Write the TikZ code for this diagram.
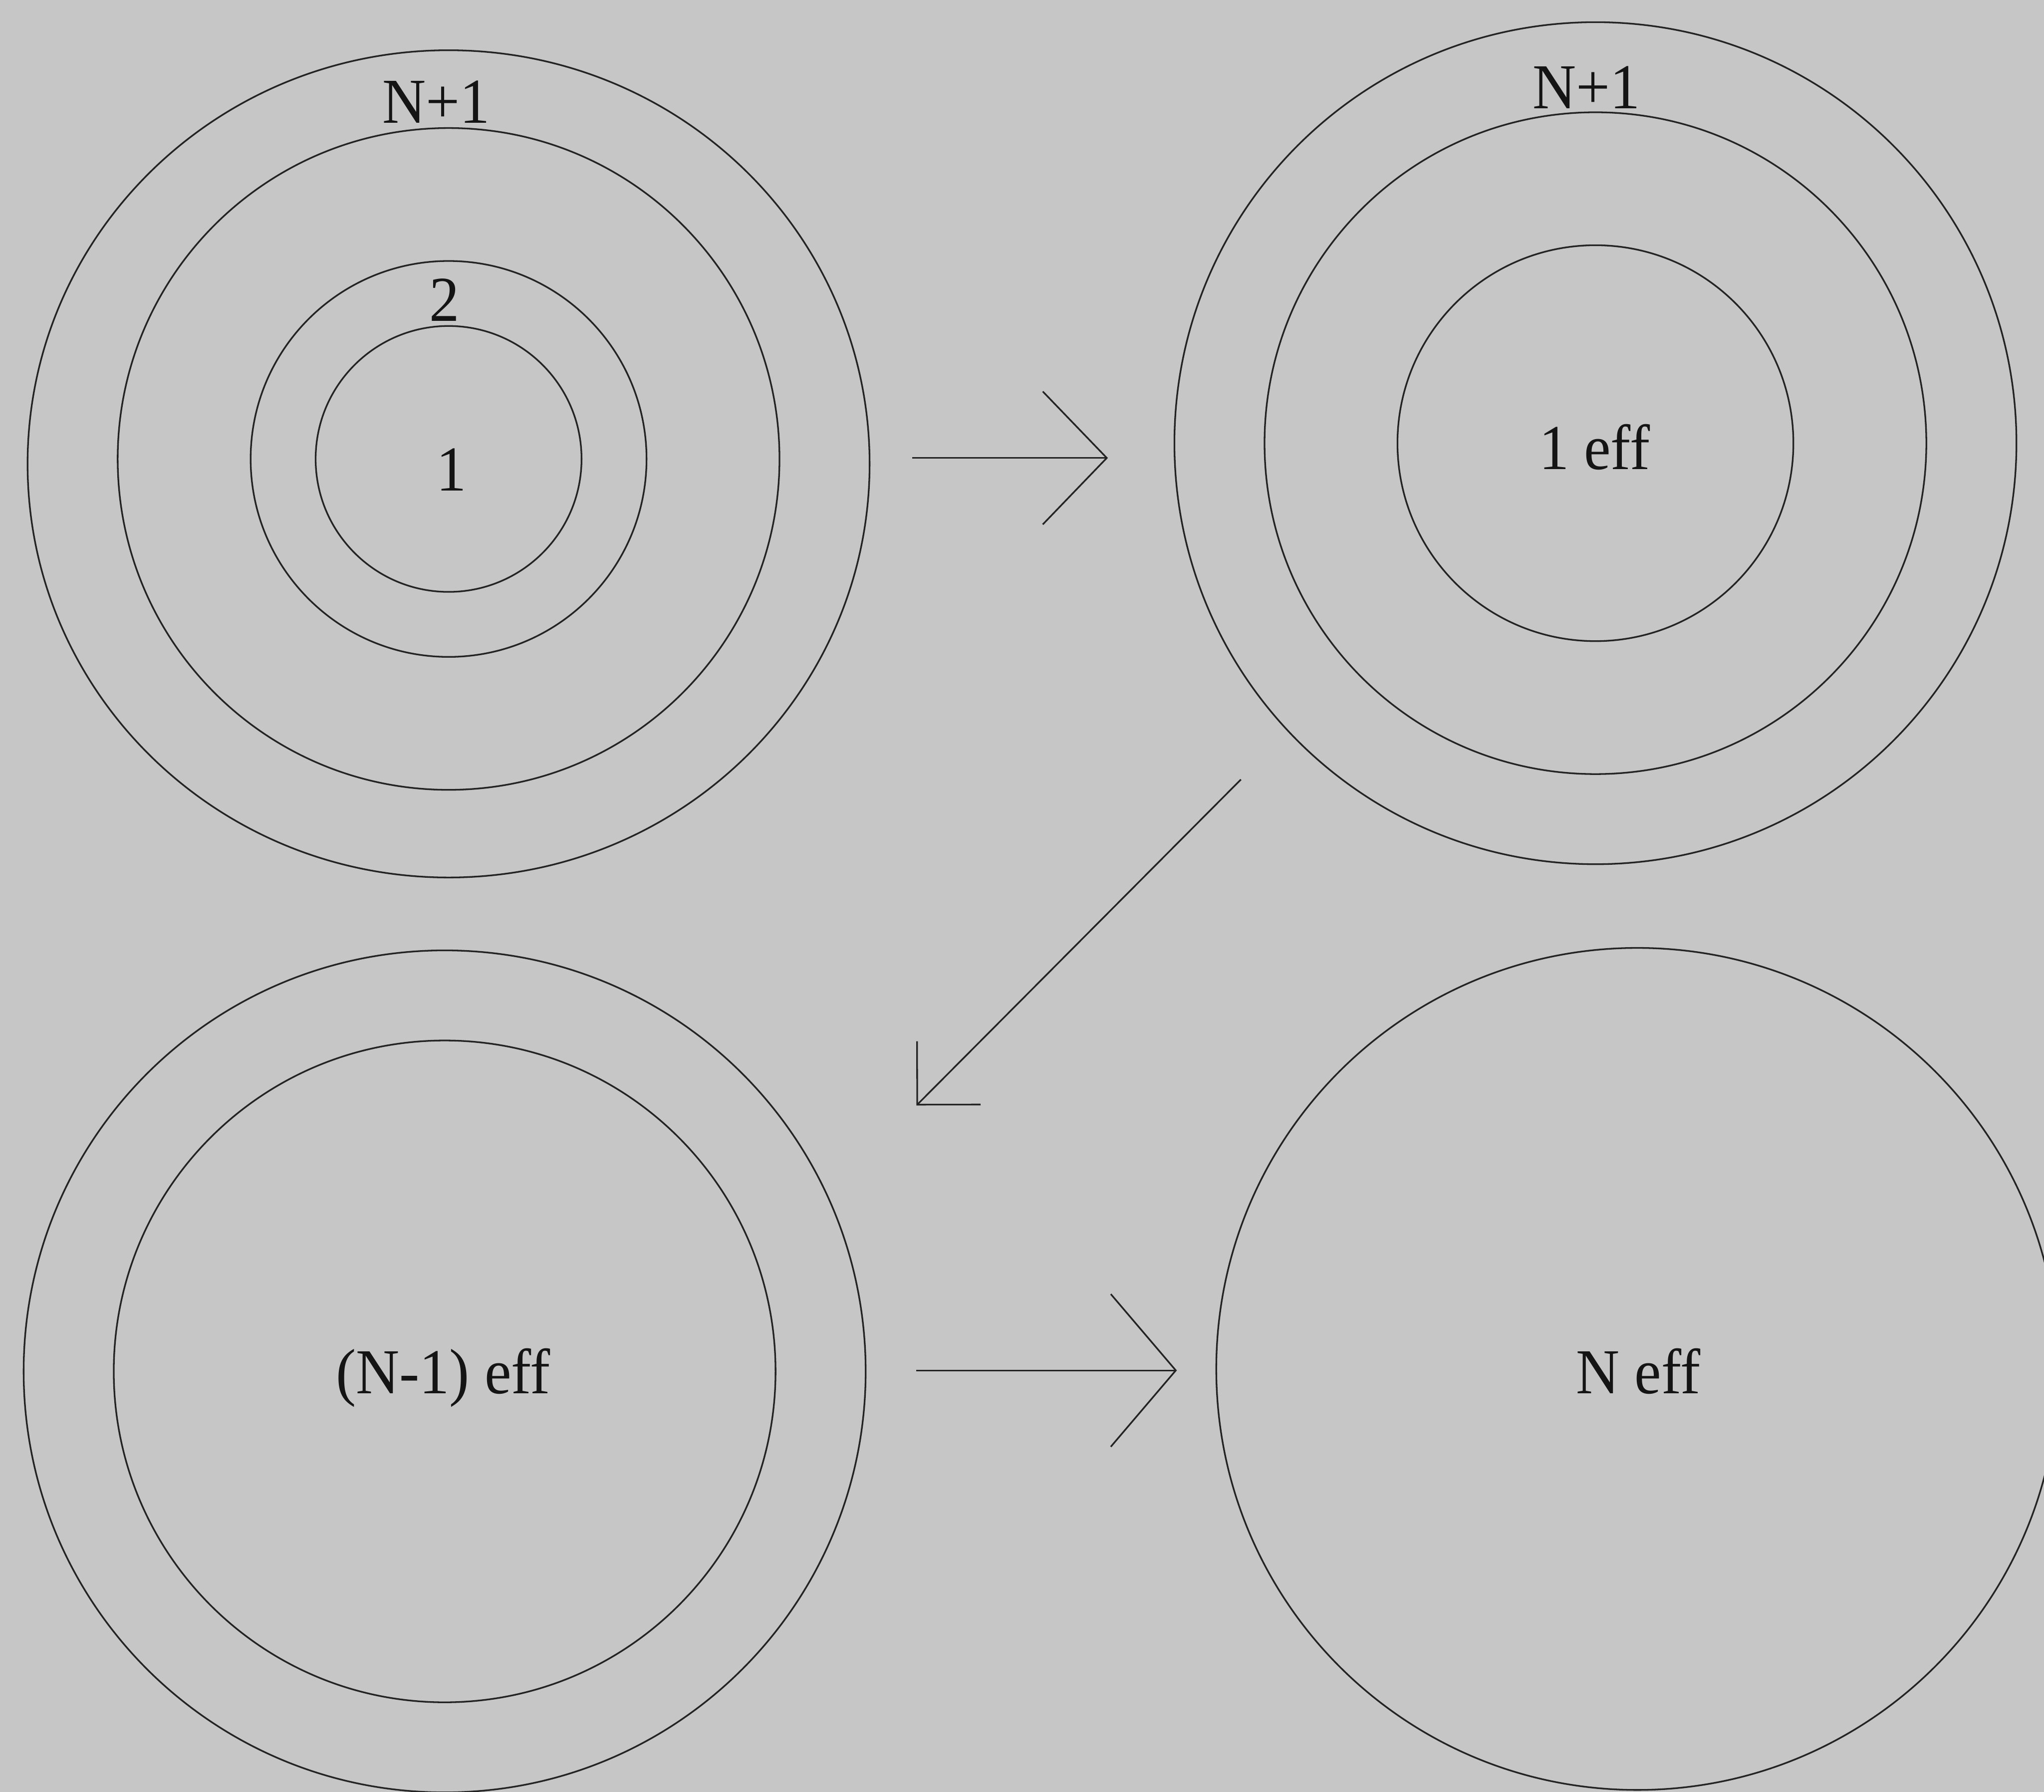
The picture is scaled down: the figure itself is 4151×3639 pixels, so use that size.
\documentclass[tikz,border=0pt]{standalone}
\usepackage{fontspec}
\setmainfont{Liberation Serif}[FakeStretch=0.94]
\usetikzlibrary{arrows.meta,shapes.geometric}
\definecolor{paper}{RGB}{198,198,198}
\definecolor{ink}{RGB}{35,35,35}
\tikzset{
  ring/.style={circle, draw=ink, line width=0.95pt, inner sep=0pt, minimum size=#1},
  oval/.style={ellipse, draw=ink, line width=0.95pt, inner sep=0pt},
  lbl/.style={font=\fontsize{37}{44}\selectfont, text=black!92, inner sep=0pt, anchor=base},
  flow/.style={draw=ink, line width=0.95pt},
}
\begin{document}
\begin{tikzpicture}[x=0.1mm, y=-0.1mm]
\fill[paper] (0,0) rectangle (4151,3639);
\useasboundingbox (0,0) rectangle (4151,3639);
\clip (0,0) rectangle (4151,3639);

% shells of the full atom
\node[oval, minimum width=171mm, minimum height=168mm] (tlA) at (911,942) {};
\node[ring=134.4mm] (tlB) at (911,932) {};
\node[ring=80.4mm]  (tlC) at (911,932) {};
\node[ring=54mm]    (tlD) at (911,932) {};
\node[lbl] (tlN) at (886,250) {N+1};
\node[lbl] (tl2) at (903,652) {2};
\node[lbl] (tl1) at (917,997) {1};

% first shell replaced by an effective core
\node[ring=171mm]   (trA) at (3240,900) {};
\node[ring=134.4mm] (trB) at (3240,900) {};
\node[ring=80.4mm]  (trC) at (3240,900) {};
\node[lbl] (trN) at (3222,220) {N+1};
\node[lbl] (tr1) at (3238,953) {1 eff};

% (N-1) shells as an effective core
\node[ring=171mm]   (blA) at (903,2785) {};
\node[ring=134.4mm] (blB) at (903,2785) {};
\node[lbl] (blT) at (900,2830) {(N-1) eff};

% all N shells as an effective core
\node[ring=171mm] (brA) at (3325,2780) {};
\node[lbl] (brT) at (3327,2830) {N eff};

% steps between the stages
\coordinate (s1a) at (1853,930);
\coordinate (s1b) at (2250,930);
\coordinate (s2a) at (2520,1583);
\coordinate (s2b) at (1861,2245);
\coordinate (s3a) at (1861,2783);
\coordinate (s3b) at (2390,2783);
\draw[flow, -{Straight Barb[length=13mm, width=27mm]}] (s1a) -- (s1b);
\draw[flow, -{Straight Barb[length=9.1mm, width=18.2mm]}] (s2a) -- (s2b);
\draw[flow, -{Straight Barb[length=13.2mm, width=31mm]}] (s3a) -- (s3b);
\end{tikzpicture}
\end{document}
